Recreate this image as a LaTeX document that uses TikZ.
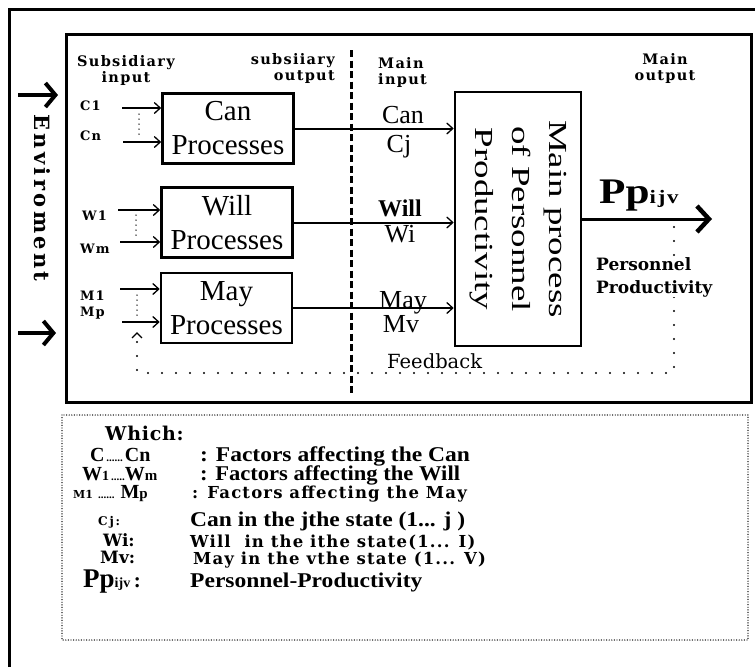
\documentclass[tikz,border=0pt]{standalone}
\usepackage{fontspec}
\setmainfont{Liberation Serif}
\newfontfamily\wideserif{DejaVu Serif}
\usetikzlibrary{arrows.meta,positioning}
\newcommand{\fsz}[2]{\fontsize{#1}{#2}\selectfont}
\tikzset{pbframe/.style={line width=3pt},
  pbdash/.style={line width=3pt, dash pattern=on 7pt off 3.5pt},
  pbbox/.style={draw, line width=2.6pt, minimum width=131pt, minimum height=70pt, inner sep=0pt, align=center, font=\fsz{29}{34}},
  pbmain/.style={draw, line width=2.6pt, minimum width=126pt, minimum height=254pt},
  pbin/.style={-{Straight Barb[length=6pt,width=11pt,line width=1.3pt]}, line width=1.3pt},
  pbout/.style={-{Straight Barb[length=12pt,width=26pt,line width=4.5pt]}, line width=3pt},
  pbenv/.style={-{Straight Barb[length=10pt,width=24pt,line width=4pt]}, line width=3.5pt},
  pbdots/.style={line width=2.2pt, line cap=round, dash pattern=on 0pt off 14pt},
  pbtag/.style={inner sep=0pt, align=center, font=\wideserif\bfseries\addfontfeature{LetterSpace=9}\fsz{14.5}{16}},
  pblbl/.style={inner sep=0pt, anchor=base, font=\fsz{26}{26}},
  pbdef/.style={inner sep=0pt, anchor=base west, xscale=1.12, font=\bfseries\fsz{21}{21}},
  pbwide/.style={inner sep=0pt, anchor=base west, font=\wideserif\bfseries\addfontfeature{LetterSpace=7}\fsz{16.5}{16.5}}}
\begin{document}
\begin{tikzpicture}[x=1pt,y=-1pt]
\useasboundingbox (0,0) rectangle (755,667);
\draw[pbframe] (9,667) -- (9,9) -- (755,9);
\draw[pbframe] (66,34) rectangle (751,402);
\draw[pbdash] (351,50) -- (351,396);
% environment side
\node[rotate=-90, inner sep=0pt, font=\wideserif\bfseries\addfontfeature{LetterSpace=16}\fsz{21}{21}] (envtext) at (42,198) {Enviroment};
\coordinate (envtop) at (18,95);
\coordinate (envtopend) at (58,95);
\coordinate (envbot) at (18,333);
\coordinate (envbotend) at (56,333);
\draw[pbenv] (envtop) -- (envtopend);
\draw[pbenv] (envbot) -- (envbotend);
% headings
\node[pbtag] (subin) at (126,70.5) {Subsidiary\\input};
\node[pbtag, align=right, anchor=east] (subout) at (335,68.5) {subsiiary\\output};
\node[pbtag, align=left, anchor=west] (mainin) at (378,72) {Main\\input};
\node[pbtag] (mainout) at (665,68.5) {Main\\output};
% processes
\node[pbbox] (canbox) at (228,128.5) {Can\\Processes};
\node[pbbox] (willbox) at (227,222.5) {Will\\Processes};
\node[pbbox] (maybox) at (226.5,308) {May\\Processes};
\node[pbmain] (mainbox) at (518,219) {};
\node[rotate=-90, xscale=1.42, inner sep=0pt, align=center, font=\fsz{26}{37}] (maintext) at (mainbox.center) {Main process\\of Personnel\\Productivity};
% subsidiary inputs
\node[pbtag, anchor=base west, font=\wideserif\bfseries\addfontfeature{LetterSpace=8}\fsz{13}{13}] (c1) at (80,110) {C1};
\node[pbtag, anchor=base west, font=\wideserif\bfseries\addfontfeature{LetterSpace=8}\fsz{13}{13}] (cn) at (80,140) {Cn};
\node[pbtag, anchor=base west, font=\wideserif\bfseries\addfontfeature{LetterSpace=8}\fsz{13}{13}] (w1) at (82,220) {W1};
\node[pbtag, anchor=base west, font=\wideserif\bfseries\addfontfeature{LetterSpace=8}\fsz{13}{13}] (wm) at (80,253) {Wm};
\node[pbtag, anchor=base west, font=\wideserif\bfseries\addfontfeature{LetterSpace=8}\fsz{13}{13}] (m1) at (80,300) {M1};
\node[pbtag, anchor=base west, font=\wideserif\bfseries\addfontfeature{LetterSpace=8}\fsz{13}{13}] (mp) at (80,316) {Mp};
\coordinate (c1in) at (122,108);
\coordinate (cnin) at (123,142);
\coordinate (w1in) at (118,210);
\coordinate (wmin) at (120,242);
\coordinate (m1in) at (120,289);
\coordinate (mpin) at (122,322);
\foreach \src/\dst in {c1in/canbox, cnin/canbox, w1in/willbox, wmin/willbox, m1in/maybox, mpin/maybox}
  \draw[pbin] (\src) -- (\src -| \dst.west);
\draw[pbdots, line width=1.5pt, dash pattern=on 0pt off 5pt] (139,114) -- (139,137);
\draw[pbdots, line width=1.5pt, dash pattern=on 0pt off 5pt] (136,215) -- (136,238);
\draw[pbdots, line width=1.5pt, dash pattern=on 0pt off 5pt] (137,295) -- (137,318);
% main inputs
\draw[pbin, line width=2pt] (canbox.east) -- (canbox.east -| mainbox.west);
\draw[pbin, line width=2pt] (willbox.east) -- (willbox.east -| mainbox.west);
\draw[pbin, line width=2pt] (maybox.east) -- (maybox.east -| mainbox.west);
\node[pblbl] (canlbl) at (403,123) {Can};
\node[pblbl] (cjlbl) at (399,152) {Cj};
\node[pblbl, font=\bfseries\fsz{24}{24}] (willlbl) at (400,216) {Will};
\node[pblbl] (wilbl) at (400,242) {Wi};
\node[pblbl] (maylbl) at (403,308) {May};
\node[pblbl] (mvlbl) at (401,332) {Mv};
% main output and feedback
\coordinate (ppend) at (712,219);
\draw[pbout] (mainbox.east) -- (ppend);
\node[inner sep=0pt, anchor=base west, xscale=1.2, font=\bfseries] (pplbl) at (599,203) {\fsz{36}{36}Pp\fsz{19}{19}\addfontfeature{LetterSpace=8}ijv};
\coordinate (fbtap) at (674,227);
\coordinate (fbturn) at (137,373);
\coordinate (fbend) at (137,332);
\draw[pbdots, -{Straight Barb[length=5pt,width=10pt,line width=1.3pt]}] (fbtap) |- (fbturn) -- (fbend);
\node[pbtag, fill=white, align=left, anchor=west, font=\wideserif\bfseries\fsz{17}{23}] (ppname) at (596,277) {Personnel\\Productivity};
\node[inner sep=1pt, anchor=base west, font=\wideserif\fsz{19.5}{19.5}] (fblbl) at (386,368) {Feedback};
% legend
\draw[line width=1.4pt, line cap=round, dash pattern=on 0pt off 2.6pt] (62,415) rectangle (748,640);
\node[pbtag, anchor=base west, font=\wideserif\bfseries\addfontfeature{LetterSpace=4}\fsz{19}{19}] (which) at (105,440) {Which:};
\node[inner sep=0pt, anchor=base west, font=\bfseries] (cdef) at (90,461) {\fsz{20}{20}C\fsz{11}{11}\,......\,\fsz{20}{20}Cn};
\node[inner sep=0pt, anchor=base west, font=\bfseries] (wdef) at (82,480) {\fsz{20}{20}W\fsz{14}{14}1\fsz{11}{11}\,.....\fsz{20}{20}W\fsz{15}{15}m};
\node[inner sep=0pt, anchor=base west, font=\bfseries] (mdef) at (73,498) {{\wideserif\fsz{11}{11}M1}\hspace{5pt}\fsz{11}{11}......\hspace{6pt}\fsz{20}{20}M\fsz{15}{15}p};
\node[pbtag, anchor=base west, font=\wideserif\bfseries\addfontfeature{LetterSpace=15}\fsz{12}{12}] (cjdef) at (98,525) {Cj:};
\node[pbwide, font=\wideserif\bfseries\fsz{17}{17}] (widef) at (103,546) {Wi:};
\node[pbwide, font=\wideserif\bfseries\fsz{17}{17}] (mvdef) at (100,563) {Mv:};
\node[inner sep=0pt, anchor=base west, font=\bfseries] (ppdef) at (83,587) {\fsz{27}{27}Pp\fsz{14}{14}ijv\fsz{21}{21}\,:};
\node[pbdef] (cantxt) at (200,461) {: Factors affecting the Can};
\node[pbdef, xscale=0.96] (willtxt) at (200,480) {: Factors affecting the Will};
\node[pbwide] (maytxt) at (192,498) {: Factors affecting the May};
\node[pbdef] (cjtxt) at (190,526) {Can in the jthe state (1... j )};
\node[pbwide] (witxt) at (190,547) {Will\ \ in the ithe state(1... I)};
\node[pbwide] (mvtxt) at (193,564) {May in the vthe state (1... V)};
\node[pbdef] (pptxt) at (190,587) {Personnel-Productivity};
\end{tikzpicture}
\end{document}
